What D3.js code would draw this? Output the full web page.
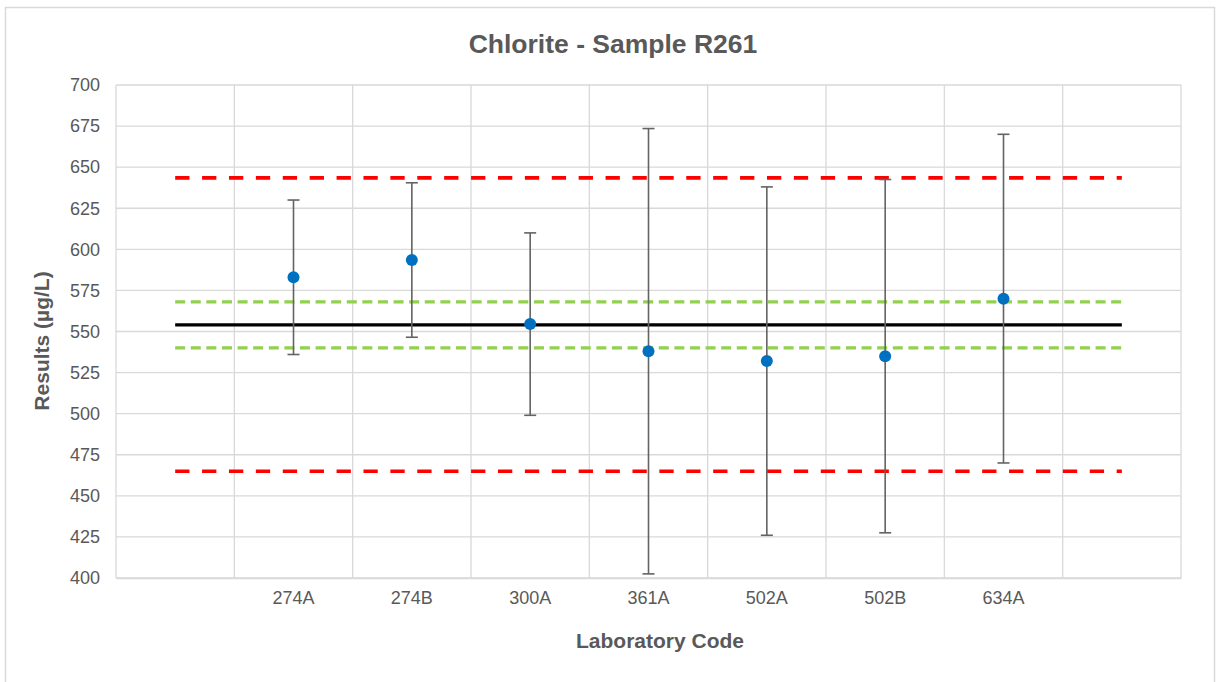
<!DOCTYPE html>
<html>
<head>
<meta charset="utf-8">
<script src="https://cdn.jsdelivr.net/npm/d3@7"></script>
<style>
  body { margin: 0; background: #fff; }
  text { font-family: "Liberation Sans", Arial, sans-serif; }
</style>
</head>
<body>
<div id="chart"></div>
<script>
// lab codes, with an empty slot at each end like the original chart
const slots = ["", "274A", "274B", "300A", "361A", "502A", "502B", "634A", ""];
const labs = ["274A", "274B", "300A", "361A", "502A", "502B", "634A"];
const results = [583, 593.5, 554.5, 538, 532, 535, 570];
const uncertainty = [47, 47, 55.5, 135.5, 106, 107.5, 100];

const assignedValue = 554;
const warningLimits = [540, 568];
const actionLimits = [465, 643.5];

const yTicks = [400, 425, 450, 475, 500, 525, 550, 575, 600, 625, 650, 675, 700];

const width = 1223, height = 682;
const margin = { top: 85, right: 42, bottom: 104, left: 116 };

const svg = d3.select('#chart')
    .append('svg')
    .attr('width', width)
    .attr('height', height);

// chart area border
svg.append('rect')
    .attr('x', 5.5).attr('y', 7.5)
    .attr('width', 1209).attr('height', 690)
    .attr('fill', '#fff')
    .attr('stroke', '#d9d9d9')
    .attr('stroke-width', 1.5);

const x = d3.scaleBand()
    .domain(d3.range(slots.length))
    .range([margin.left, width - margin.right])
    .padding(0);

const y = d3.scaleLinear()
    .domain([400, 700])
    .range([height - margin.bottom, margin.top]);

const cx = i => x(i) + x.bandwidth() / 2;
const grid = '#d9d9d9';

// horizontal gridlines
svg.append('g')
    .selectAll('line')
    .data(yTicks)
    .enter()
    .append('line')
    .attr('x1', margin.left).attr('x2', width - margin.right)
    .attr('y1', d => y(d)).attr('y2', d => y(d))
    .attr('stroke', grid)
    .attr('stroke-width', 1.3);

// vertical gridlines at category boundaries
const bounds = d3.range(slots.length).map(i => x(i)).concat([x(slots.length - 1) + x.bandwidth()]);
svg.append('g')
    .selectAll('line')
    .data(bounds)
    .enter()
    .append('line')
    .attr('x1', d => d).attr('x2', d => d)
    .attr('y1', margin.top).attr('y2', height - margin.bottom)
    .attr('stroke', grid)
    .attr('stroke-width', 1.3);

// y axis labels
const yAxis = svg.append('g')
    .attr('transform', `translate(${margin.left},0)`)
    .call(d3.axisLeft(y).tickValues(yTicks).tickSize(0).tickPadding(16));
yAxis.select('.domain').remove();
yAxis.selectAll('text')
    .attr('fill', '#595959')
    .style('font-size', '18px');

// x axis
const xAxis = svg.append('g')
    .attr('transform', `translate(0,${height - margin.bottom})`)
    .call(d3.axisBottom(x).tickFormat(i => slots[i]).tickSize(0).tickPadding(13));
xAxis.select('.domain')
    .attr('stroke', grid)
    .attr('stroke-width', 1.5);
xAxis.selectAll('text')
    .attr('fill', '#595959')
    .style('font-size', '18px');

// reference lines from first to last slot centre
const x0 = cx(0), x1 = cx(slots.length - 1);
function hline(v, color, w, dash) {
    svg.append('line')
        .attr('x1', x0).attr('x2', x1)
        .attr('y1', y(v)).attr('y2', y(v))
        .attr('stroke', color)
        .attr('stroke-width', w)
        .attr('stroke-dasharray', dash);
}
actionLimits.forEach(v => hline(v, '#ff0000', 3.6, '14.3,12.6'));
warningLimits.forEach(v => hline(v, '#92d050', 3.3, '10,5.6'));
hline(assignedValue, '#000000', 3.2, null);

// error bars
const bars = svg.append('g')
    .selectAll('g')
    .data(labs)
    .enter()
    .append('g')
    .attr('stroke', '#636363')
    .attr('stroke-width', 1.6);

bars.append('line')
    .attr('x1', (d, i) => cx(slots.indexOf(d))).attr('x2', (d, i) => cx(slots.indexOf(d)))
    .attr('y1', (d, i) => y(results[i] + uncertainty[i]))
    .attr('y2', (d, i) => y(results[i] - uncertainty[i]));
[1, -1].forEach(s => {
    bars.append('line')
        .attr('x1', d => cx(slots.indexOf(d)) - 6).attr('x2', d => cx(slots.indexOf(d)) + 6)
        .attr('y1', (d, i) => y(results[i] + s * uncertainty[i]))
        .attr('y2', (d, i) => y(results[i] + s * uncertainty[i]));
});

// result points
svg.append('g')
    .selectAll('circle')
    .data(labs)
    .enter()
    .append('circle')
    .attr('cx', d => cx(slots.indexOf(d)))
    .attr('cy', (d, i) => y(results[i]))
    .attr('r', 6)
    .attr('fill', '#0070c0');

// titles
svg.append('text')
    .attr('x', 613).attr('y', 53)
    .attr('text-anchor', 'middle')
    .attr('fill', '#595959')
    .style('font-size', '26.5px')
    .style('font-weight', 'bold')
    .text('Chlorite - Sample R261');

svg.append('text')
    .attr('x', 660).attr('y', 648)
    .attr('text-anchor', 'middle')
    .attr('fill', '#595959')
    .style('font-size', '21px')
    .style('font-weight', 'bold')
    .text('Laboratory Code');

svg.append('text')
    .attr('transform', 'translate(49,341) rotate(-90)')
    .attr('text-anchor', 'middle')
    .attr('fill', '#595959')
    .style('font-size', '21px')
    .style('font-weight', 'bold')
    .text('Results (µg/L)');
</script>
</body>
</html>
